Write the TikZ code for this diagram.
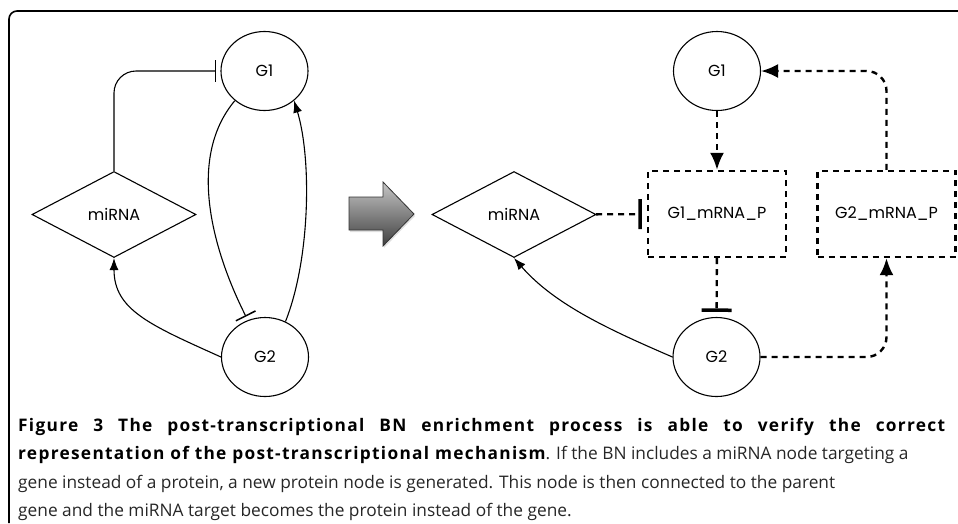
\documentclass[tikz,border=0pt]{standalone}
\usepackage{fontspec}
\setmainfont{Open Sans}[BoldFeatures={LetterSpace=7.5}]
\newfontfamily\labelfont{Poppins}
\usetikzlibrary{shapes.geometric, arrows.meta, shadows}

\tikzset{
    gene/.style={ellipse, draw, line width=1.1pt, minimum width=87pt, minimum height=79pt,
        inner sep=0pt, font=\labelfont\fontsize{16}{18}\selectfont},
    mirna/.style={diamond, draw, line width=1.1pt, minimum width=164pt, minimum height=86pt,
        inner sep=0pt, font=\labelfont\fontsize{16}{18}\selectfont},
    protein/.style={rectangle, draw, line width=2.4pt, dash pattern=on 6pt off 5pt,
        minimum width=138pt, minimum height=86pt, font=\labelfont\fontsize{16}{18}\selectfont},
    act/.style={line width=1.1pt, -{Latex[length=12pt, width=9pt]}},
    inh/.style={line width=1.1pt, -{Bar[width=22pt, line width=1.5pt]}, shorten >=4pt},
    dact/.style={line width=2.4pt, dash pattern=on 6pt off 5pt, -{Latex[length=17pt, width=14pt]}},
    dinh/.style={line width=2.4pt, dash pattern=on 6pt off 5pt, -{Bar[width=30pt, line width=3.5pt]}, shorten >=5pt},
    capline/.style={anchor=base west, inner sep=0pt, text=black!85, font=\fontsize{17.3}{20}\selectfont}
}

\begin{document}
\begin{tikzpicture}[x=1pt, y=-1pt]
        \useasboundingbox (0,0) rectangle (958,523);

        % frame
        \draw[line width=1.6pt, rounded corners=8pt] (9,523) -- (9,11) -- (958,11);

        % before
        \node[gene] (g1L) at (264.5,71) {G1};
        \node[mirna] (mirL) at (114,214.5) {miRNA};
        \node[gene] (g2L) at (265,357) {G2};

        \draw[inh, rounded corners=22pt] (mirL.north) |- (g1L.west);
        \draw[inh] (g1L.225) .. controls (185,160) and (215,255) .. (g2L.115);
        \draw[act] (g2L.60) .. controls (310,260) and (312,160) .. (g1L.-45);
        \draw[act] (g2L.west) .. controls (150,325) and (114,310) .. (mirL.south);

        % enrichment arrow
        \shade[top color=gray!45, bottom color=black!75, draw=black!80, line width=0.8pt,
            drop shadow={opacity=0.25, shadow xshift=1pt, shadow yshift=-2pt}]
            (349,197) -- (383,197) -- (383,182) -- (414,214) -- (383,246) -- (383,230)
            -- (349,230) -- cycle;

        % after
        \node[gene] (g1R) at (717,71) {G1};
        \node[mirna] (mirR) at (514,214.5) {miRNA};
        \node[protein] (g1p) at (717,214) {G1\_mRNA\_P};
        \node[protein] (g2p) at (886.5,214) {G2\_mRNA\_P};
        \node[gene] (g2R) at (716.5,357) {G2};

        \draw[dact] (g1R) -- (g1p);
        \draw[dinh] (mirR) -- (g1p);
        \draw[dinh] (g1p) -- (g2R);
        \draw[dact, rounded corners=20pt] (g2R.east) -| (g2p.south);
        \draw[dact, rounded corners=20pt] (g2p.north) |- (g1R.east);
        \draw[act] (g2R.west) .. controls (610,330) and (555,305) .. (mirR.south);

        % caption
        \node[capline] (cap1) at (18,431)
            {\makebox[927pt][s]{\textcolor{black}{\bfseries Figure 3 The post-transcriptional BN enrichment process is able to verify the correct}}};
        \node[capline] (cap2) at (18,459.5)
            {\textcolor{black}{\bfseries representation of the post-transcriptional mechanism}. If the BN includes a miRNA node targeting a};
        \node[capline] (cap3) at (18,488)
            {gene instead of a protein, a new protein node is generated. This node is then connected to the parent};
        \node[capline] (cap4) at (18,516.5)
            {gene and the miRNA target becomes the protein instead of the gene.};
\end{tikzpicture}
\end{document}
